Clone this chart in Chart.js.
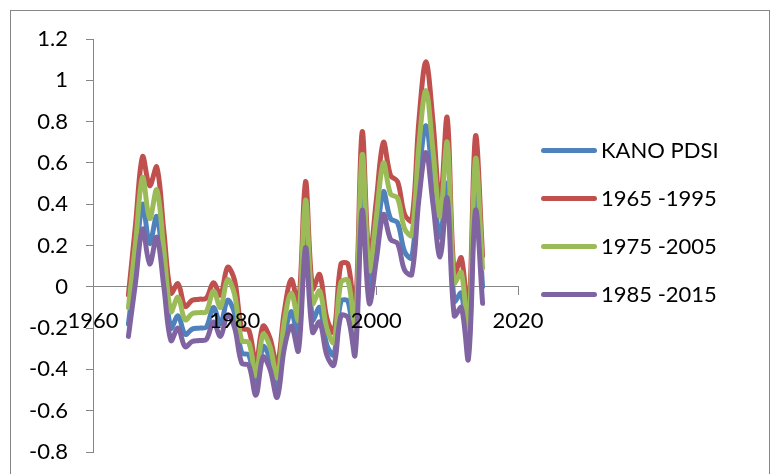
<!DOCTYPE html>
<html>
<head>
<meta charset="utf-8">
<title>KANO PDSI</title>
<script src="https://cdn.jsdelivr.net/npm/chart.js@4/dist/chart.umd.min.js"></script>
<style>
  html, body { margin: 0; padding: 0; background: #ffffff; }
  #wrap { position: relative; width: 780px; height: 474px; overflow: hidden; background: #ffffff; }
  #frame { position: absolute; left: 10px; top: 10px; width: 760px; height: 520px;
           border: 1px solid #868686; box-sizing: border-box; pointer-events: none; }
  #chart { position: absolute; left: 0; top: 0; }
  #legend { position: absolute; left: 541px; top: 0; font-family: Lato, "Open Sans", sans-serif;
            font-size: 22px; color: #000000; }
  .item { position: absolute; left: 0; height: 22px; line-height: 22px; white-space: nowrap; }
  .swatch { position: absolute; left: 0; top: 8.5px; width: 56px; height: 5px; border-radius: 3px; }
  .text { position: absolute; left: 60px; top: 0; }
</style>
</head>
<body>
<div id="wrap">
  <canvas id="chart" width="780" height="474"></canvas>
  <div id="frame"></div>
  <div id="legend"></div>
</div>
<script>
// Years of the index
const years = [
  1965, 1966, 1967, 1968, 1969, 1970, 1971, 1972, 1973, 1974,
  1975, 1976, 1977, 1978, 1979, 1980, 1981, 1982, 1983, 1984,
  1985, 1986, 1987, 1988, 1989, 1990, 1991, 1992, 1993, 1994,
  1995, 1996, 1997, 1998, 1999, 2000, 2001, 2002, 2003, 2004,
  2005, 2006, 2007, 2008, 2009, 2010, 2011, 2012, 2013, 2014, 2015
];

// KANO PDSI
const kanoPdsi = [
  -0.18, 0.10, 0.40, 0.21, 0.34, 0.08, -0.20, -0.14, -0.23, -0.205,
  -0.20, -0.195, -0.10, -0.18, -0.065, -0.13, -0.32, -0.33, -0.48, -0.29,
  -0.35, -0.49, -0.25, -0.12, -0.25, 0.29, -0.16, -0.10, -0.28, -0.33,
  -0.07, -0.07, -0.28, 0.48, 0.00, 0.22, 0.46, 0.33, 0.31, 0.17,
  0.14, 0.53, 0.78, 0.51, 0.24, 0.50, -0.07, -0.03, -0.30, 0.48, 0.00
];

// Calibration period 1965 -1995
const cal1965to1995 = [
  -0.04, 0.30, 0.63, 0.49, 0.58, 0.27, -0.03, 0.015, -0.095, -0.065,
  -0.06, -0.055, 0.02, -0.04, 0.095, 0.03, -0.20, -0.21, -0.37, -0.19,
  -0.25, -0.38, -0.12, 0.035, -0.09, 0.51, -0.01, 0.06, -0.15, -0.22,
  0.11, 0.11, -0.13, 0.75, 0.13, 0.42, 0.70, 0.54, 0.51, 0.35,
  0.32, 0.80, 1.09, 0.80, 0.40, 0.82, 0.06, 0.14, -0.15, 0.73, 0.15
];

// Calibration period 1975 -2005
const cal1975to2005 = [
  -0.10, 0.21, 0.53, 0.33, 0.47, 0.18, -0.12, -0.05, -0.16, -0.13,
  -0.125, -0.12, -0.02, -0.10, 0.035, -0.04, -0.26, -0.27, -0.43, -0.23,
  -0.29, -0.44, -0.17, -0.03, -0.16, 0.42, -0.08, -0.02, -0.20, -0.27,
  0.02, 0.03, -0.20, 0.64, 0.08, 0.34, 0.60, 0.45, 0.43, 0.28,
  0.25, 0.68, 0.95, 0.66, 0.34, 0.70, 0.02, 0.07, -0.23, 0.62, 0.09
];

// Calibration period 1985 -2015
const cal1985to2015 = [
  -0.24, 0.02, 0.28, 0.11, 0.24, 0.00, -0.26, -0.20, -0.29, -0.265,
  -0.26, -0.255, -0.17, -0.24, -0.135, -0.20, -0.37, -0.38, -0.525, -0.34,
  -0.40, -0.535, -0.30, -0.19, -0.31, 0.19, -0.22, -0.17, -0.33, -0.38,
  -0.14, -0.15, -0.33, 0.37, -0.08, 0.13, 0.35, 0.23, 0.21, 0.08,
  0.06, 0.42, 0.65, 0.40, 0.145, 0.43, -0.14, -0.10, -0.35, 0.37, -0.08
];

const seriesNames = ['KANO PDSI', '1965 -1995', '1975 -2005', '1985 -2015'];
const seriesColors = ['#4f81bd', '#c0504d', '#9bbb59', '#8064a2'];

const xTickValues = [1960, 1980, 2000, 2020];
const xTickLabels = ['1960', '1980', '2000', '2020'];
const yTickValues = [-0.8, -0.6, -0.4, -0.2, 0, 0.2, 0.4, 0.6, 0.8, 1, 1.2];
const yTickLabels = ['-0.8', '-0.6', '-0.4', '-0.2', '0', '0.2', '0.4', '0.6', '0.8', '1', '1.2'];

const allSeries = [kanoPdsi, cal1965to1995, cal1975to2005, cal1985to2015];

const axisGrey = '#868686';
const tickFont = { family: 'Lato', size: 22 };

// later series sit on top of earlier ones
const datasets = allSeries.map((vals, i) => ({
  label: seriesNames[i],
  data: years.map((yr, k) => ({ x: yr, y: vals[k] })),
  borderColor: seriesColors[i],
  backgroundColor: seriesColors[i],
  borderWidth: 5,
  tension: 0.35,
  borderCapStyle: 'round',
  borderJoinStyle: 'round',
  pointRadius: 0,
  fill: false,
  order: allSeries.length - 1 - i
}));

const chart = new Chart(document.getElementById('chart'), {
  type: 'line',
  data: { datasets },
  options: {
    responsive: false,
    animation: false,
    layout: { padding: { left: 0, top: 39, right: 262, bottom: 22 } },
    plugins: { legend: { display: false }, tooltip: { enabled: false } },
    scales: {
      x: {
        type: 'linear',
        position: { y: 0 },
        min: 1960,
        max: 2020,
        afterBuildTicks: (s) => { s.ticks = xTickValues.map(v => ({ value: v })); },
        grid: { drawOnChartArea: false, drawTicks: true, tickLength: 8, color: axisGrey, lineWidth: 1 },
        border: { display: true, color: axisGrey, width: 1 },
        ticks: {
          z: 1,
          padding: 13, color: '#000000', font: tickFont, maxRotation: 0, autoSkip: false,
          callback: (v, i) => xTickLabels[i]
        }
      },
      y: {
        type: 'linear',
        position: 'left',
        min: -0.8,
        max: 1.2,
        afterBuildTicks: (s) => { s.ticks = yTickValues.map(v => ({ value: v })); },
        afterFit: (s) => { s.width = 93; s.paddingTop = 0; s.paddingBottom = 0; },
        grid: { drawOnChartArea: false, drawTicks: true, tickLength: 7, color: axisGrey, lineWidth: 1 },
        border: { display: true, color: axisGrey, width: 1 },
        ticks: {
          padding: 18, color: '#000000', font: tickFont, autoSkip: false,
          callback: (v, i) => yTickLabels[i]
        }
      }
    }
  }
});

// legend to the right of the plot, built from the datasets
const legendRows = [150, 198, 246, 294];
const legendEl = document.getElementById('legend');
chart.data.datasets.forEach((ds, i) => {
  const item = document.createElement('div');
  item.className = 'item';
  item.style.top = (legendRows[i] - 11) + 'px';
  const sw = document.createElement('div');
  sw.className = 'swatch';
  sw.style.background = ds.borderColor;
  const tx = document.createElement('span');
  tx.className = 'text';
  tx.textContent = ds.label;
  item.appendChild(sw);
  item.appendChild(tx);
  legendEl.appendChild(item);
});
</script>
</body>
</html>
